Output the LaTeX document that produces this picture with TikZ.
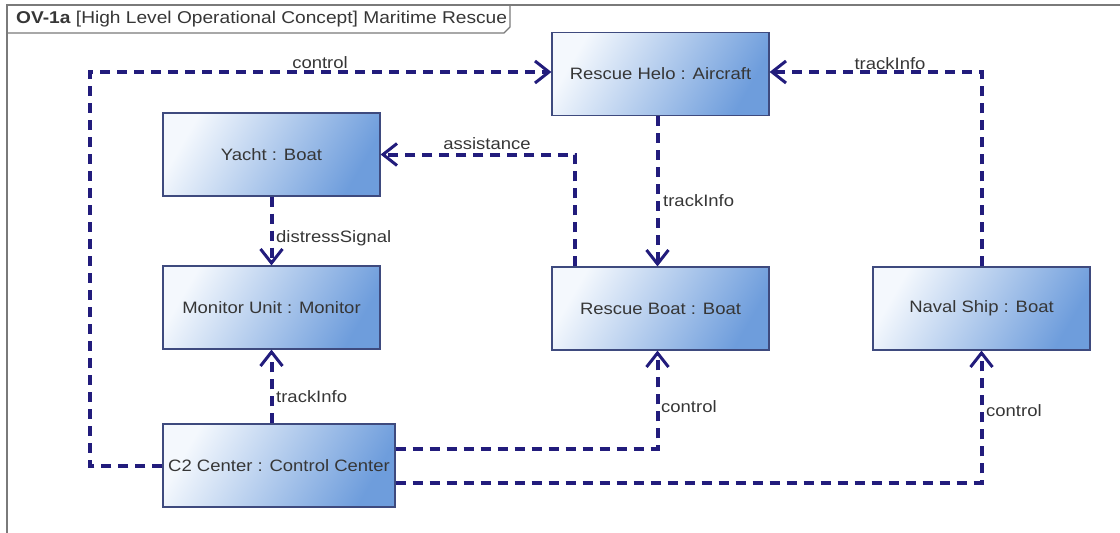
\documentclass[tikz,border=0pt]{standalone}
\usepackage{fontspec}
\setmainfont{Liberation Sans}
\newfontfamily\labfont[FakeStretch=1.12]{Liberation Sans}
\usetikzlibrary{arrows.meta}
\definecolor{boxborder}{HTML}{3E4A7E}
\definecolor{boxlight}{HTML}{F4F8FD}
\definecolor{boxmid}{HTML}{C2D7F2}
\definecolor{boxdark}{HTML}{6E9DDC}
\definecolor{lineblue}{HTML}{221C7C}
\definecolor{txt}{HTML}{363636}
\definecolor{framegray}{HTML}{7A7A7A}
\tikzset{
  box/.style={draw=boxborder, line width=1.2pt, top color=boxlight, middle color=boxmid, bottom color=boxdark, shading angle=60,
    minimum width=217, minimum height=83, inner sep=0pt, text=txt,
    font=\labfont\fontsize{16.5}{18}\selectfont},
  flow/.style={draw=lineblue, line width=4pt, dash pattern=on 10pt off 7pt,
    -{Straight Barb[length=14pt,width=22pt,line width=3pt]}},
  lbl/.style={text=txt, font=\labfont\fontsize{16.5}{18}\selectfont, inner sep=1pt}
}
\begin{document}
\begin{tikzpicture}[x=1pt,y=-1pt]
\useasboundingbox (0,0) rectangle (1120,533);
% frame
\draw[framegray, line width=1.8pt] (7,533) -- (7,5) -- (1120,5);
\draw[framegray, line width=1.4pt] (510,5) -- (510,27) -- (504,33) -- (7,33);
\node[anchor=west, text=txt, font=\labfont\fontsize{17.1}{19}\selectfont, inner sep=0pt] (title) at (16,19)
  {\textbf{OV-1a} [High Level Operational Concept] Maritime Rescue};
% nodes
\node[box] (helo) at (660.5,74) {Rescue Helo : Aircraft};
\node[box] (yacht) at (271.5,154.5) {Yacht : Boat};
\node[box] (monitor) at (271.5,307.5) {Monitor Unit : Monitor};
\node[box] (rboat) at (660.5,308.5) {Rescue Boat : Boat};
\node[box] (naval) at (981.5,308.5) {Naval Ship : Boat};
\node[box, minimum width=232] (c2) at (279,465.5) {C2 Center : Control Center};
% connectors
\coordinate (k1) at (90,465.5);
\draw[flow] (c2.west) -- (k1) |- ([yshift=2]helo.west);
\node[lbl] (l1) at (320,63) {control};
\draw[flow] (naval.north) |- ([yshift=2]helo.east);
\node[lbl] (l2) at (890,64) {trackInfo};
\draw[flow] ([xshift=24]rboat.north west) |- (yacht.east);
\node[lbl] (l3) at (487,144) {assistance};
\draw[flow] ([xshift=-3]helo.south) -- ([xshift=-3]rboat.north);
\node[lbl, anchor=west] (l4) at (662,201) {trackInfo};
\draw[flow] (yacht.south) -- (monitor.north);
\node[lbl, anchor=west] (l5) at (275,238) {distressSignal};
\draw[flow] (c2.north -| monitor.south) -- (monitor.south);
\node[lbl, anchor=west] (l6) at (275,397) {trackInfo};
\draw[flow] ([yshift=17]c2.east) -| ([xshift=-3]rboat.south);
\node[lbl, anchor=west] (l7) at (660,407) {control};
\draw[flow] ([yshift=-17]c2.east) -| (naval.south);
\node[lbl, anchor=west] (l8) at (985,411) {control};
\end{tikzpicture}
\end{document}
